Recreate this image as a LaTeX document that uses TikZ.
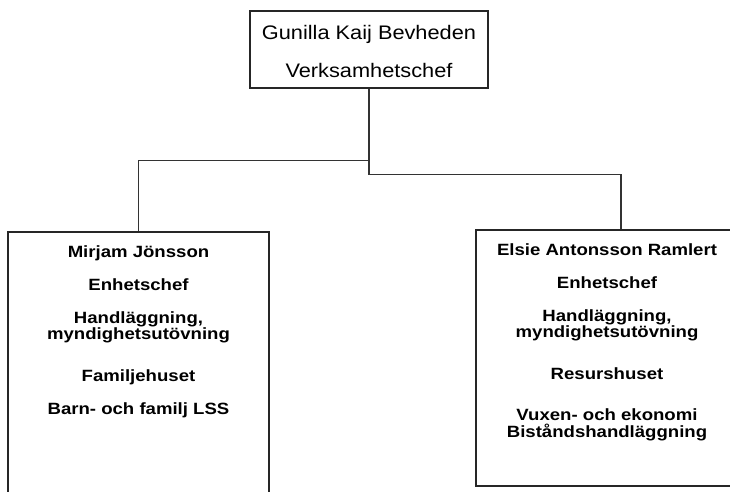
\documentclass[tikz,border=0pt]{standalone}
\usepackage{fontspec}
\setmainfont{Liberation Sans}
\newfontfamily\regfont{Liberation Sans}[FakeStretch=1.11]
\newfontfamily\boldfont{Liberation Sans}[FakeStretch=1.14]
\begin{document}
\begin{tikzpicture}[x=1pt,y=-1pt,
  box/.style={draw=black!85, line width=1.3pt, rectangle, inner sep=0pt},
  conn/.style={draw=black!80, line width=1.3pt},
  toptxt/.style={font=\regfont\fontsize{19.6}{22}\selectfont, align=center, inner sep=0pt, anchor=base},
  subtxt/.style={font=\boldfont\bfseries\fontsize{16.3}{16.7}\selectfont, align=center, inner sep=0pt, anchor=base}]
\useasboundingbox (0,0) rectangle (730,491);
\clip (0,0) rectangle (730,491);
\node[box, minimum width=238pt, minimum height=77pt] (topbox) at (369,49.5) {};
\node[box, minimum width=261pt, minimum height=280pt] (lbox) at (138.5,372) {};
\node[box, minimum width=262pt, minimum height=256pt] (rbox) at (607,358) {};
\node[toptxt] (toptext) at (369,77) {Gunilla Kaij Bevheden\\[16pt]Verksamhetschef};
\node[subtxt] (ltext) at (138.5,414.7) {Mirjam Jönsson\\[16.3pt]Enhetschef\\[16.3pt]Handläggning,\\myndighetsutövning\\[24.6pt]Familjehuset\\[17pt]Barn- och familj LSS};
\node[subtxt] (rtext) at (607,437.3) {Elsie Antonsson Ramlert\\[16.5pt]Enhetschef\\[16.3pt]Handläggning,\\myndighetsutövning\\[25pt]Resurshuset\\[24.3pt]Vuxen- och ekonomi\\Biståndshandläggning};
\draw[conn] (topbox.south) -- ++(0,86) coordinate (rj) -| ([xshift=14pt]rbox.north);
\draw[conn] ([yshift=-72pt]topbox.south) -| (lbox.north);
\end{tikzpicture}
\end{document}
